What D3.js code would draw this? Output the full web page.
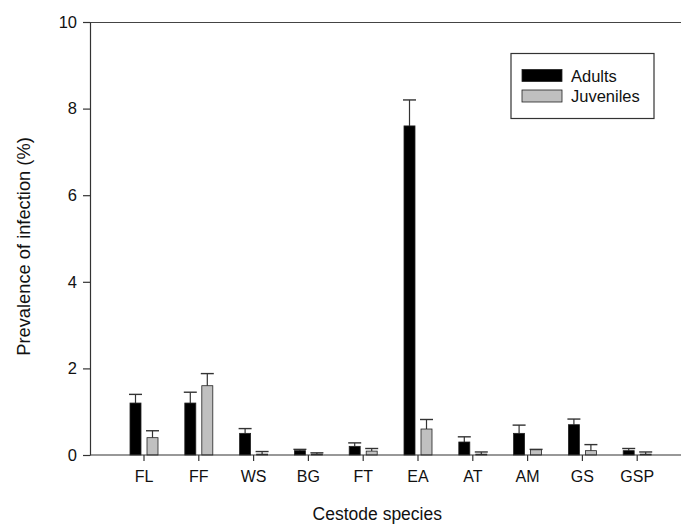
<!DOCTYPE html>
<html>
<head>
<meta charset="utf-8">
<script src="https://cdn.jsdelivr.net/npm/d3@7"></script>
<style>
  body { margin: 0; background: #fff; }
  text { font-family: "Liberation Sans", Arial, sans-serif; fill: #111; }
</style>
</head>
<body>
<div id="chart"></div>
<script>
// cestode prevalence, adults vs juveniles
var species = ["FL", "FF", "WS", "BG", "FT", "EA", "AT", "AM", "GS", "GSP"];
var adults = [1.2, 1.2, 0.5, 0.1, 0.2, 7.6, 0.3, 0.5, 0.7, 0.1];
var adultsErr = [0.2, 0.25, 0.11, 0.03, 0.08, 0.6, 0.12, 0.19, 0.13, 0.05];
var juveniles = [0.4, 1.6, 0.02, 0.02, 0.09, 0.6, 0.02, 0.12, 0.1, 0.02];
var juvenilesErr = [0.16, 0.28, 0.06, 0.03, 0.06, 0.22, 0.05, 0.01, 0.14, 0.05];
var yTicks = [0, 2, 4, 6, 8, 10];
var seriesNames = ["Adults", "Juveniles"];
var seriesColors = ["#000000", "#c0c0c0"];

var w = 681, h = 524,
    m = [22, 0, 69, 90]; // top right bottom left

var svg = d3.select("#chart").append("svg")
    .attr("width", w)
    .attr("height", h);

var y = d3.scaleLinear().domain([0, 10]).range([h - m[2], m[0]]);
var x = d3.scaleBand().domain(species).range([116.6, 664.6]);

var barW = 11, off = 8.5;

var series = [
  { name: seriesNames[0], vals: adults, err: adultsErr, color: seriesColors[0], dx: -off },
  { name: seriesNames[1], vals: juveniles, err: juvenilesErr, color: seriesColors[1], dx: off }
];

// top frame line
svg.append("line")
    .attr("x1", m[3]).attr("x2", w)
    .attr("y1", y(10) + 0.5).attr("y2", y(10) + 0.5)
    .attr("stroke", "#444").attr("stroke-width", 1.2);

series.forEach(function(s) {
  var g = svg.append("g");
  var cx = function(d, i) { return x(species[i]) + x.bandwidth() / 2 + s.dx; };

  // error bars (upper only)
  g.selectAll("line.err")
      .data(s.vals)
    .enter().append("line")
      .attr("class", "err")
      .attr("x1", cx).attr("x2", cx)
      .attr("y1", function(d) { return y(d); })
      .attr("y2", function(d, i) { return y(d + s.err[i]); })
      .attr("stroke", "#333").attr("stroke-width", 1.2);
  g.selectAll("line.cap")
      .data(s.vals)
    .enter().append("line")
      .attr("class", "cap")
      .attr("x1", function(d, i) { return cx(d, i) - 6.5; })
      .attr("x2", function(d, i) { return cx(d, i) + 6.5; })
      .attr("y1", function(d, i) { return y(d + s.err[i]); })
      .attr("y2", function(d, i) { return y(d + s.err[i]); })
      .attr("stroke", "#333").attr("stroke-width", 1.4);

  g.selectAll("rect")
      .data(s.vals)
    .enter().append("rect")
      .attr("x", function(d, i) { return cx(d, i) - barW / 2; })
      .attr("y", function(d) { return y(d); })
      .attr("width", barW)
      .attr("height", function(d) { return y(0) - y(d); })
      .attr("fill", s.color)
      .attr("stroke", "#222").attr("stroke-width", 0.8);
});

// x axis
var xAxis = svg.append("g")
    .attr("transform", "translate(0," + y(0) + ")")
    .call(d3.axisBottom(x).tickSize(6).tickPadding(10).tickSizeOuter(0));
xAxis.select(".domain").remove();
xAxis.append("line")
    .attr("x1", m[3]).attr("x2", w)
    .attr("stroke", "#333").attr("stroke-width", 1.2);
xAxis.selectAll(".tick line").attr("stroke", "#333").attr("stroke-width", 1.2);
xAxis.selectAll(".tick text").style("font-size", "16px").attr("fill", "#111");

// y axis
var yAxis = svg.append("g")
    .attr("transform", "translate(" + m[3] + ",0)")
    .call(d3.axisLeft(y).tickValues(yTicks).tickSize(7).tickPadding(6).tickSizeOuter(0));
yAxis.select(".domain").attr("stroke", "#333").attr("stroke-width", 1.2);
yAxis.selectAll(".tick line").attr("stroke", "#333").attr("stroke-width", 1.2);
yAxis.selectAll(".tick text").style("font-size", "16.5px").attr("fill", "#111");

// axis titles
svg.append("text")
    .attr("x", (m[3] + 664.6) / 2)
    .attr("y", 520)
    .attr("text-anchor", "middle")
    .style("font-size", "17.5px")
    .text("Cestode species");

svg.append("text")
    .attr("transform", "translate(30," + (y(5) + 8) + ") rotate(-90)")
    .attr("text-anchor", "middle")
    .style("font-size", "18.3px")
    .text("Prevalence of infection (%)");

// legend
var leg = svg.append("g").attr("transform", "translate(511,53.5)");
leg.append("rect")
    .attr("width", 143).attr("height", 65)
    .attr("fill", "#fff").attr("stroke", "#333").attr("stroke-width", 1.2);
var li = leg.selectAll("g.item")
    .data(series)
  .enter().append("g")
    .attr("class", "item")
    .attr("transform", function(d, i) { return "translate(11," + (16 + i * 20.5) + ")"; });
li.append("rect")
    .attr("width", 40).attr("height", 12)
    .attr("fill", function(d) { return d.color; })
    .attr("stroke", "#222").attr("stroke-width", 0.8);
li.append("text")
    .attr("x", 49).attr("y", 12)
    .style("font-size", "16.5px")
    .text(function(d) { return d.name; });
</script>
</body>
</html>
